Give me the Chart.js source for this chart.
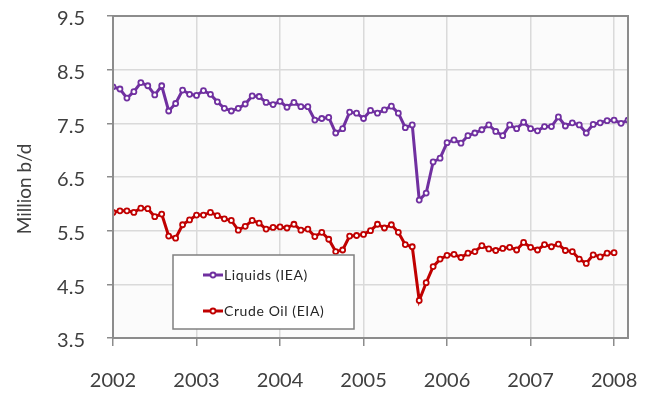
<!DOCTYPE html>
<html>
<head>
<meta charset="utf-8">
<script src="https://cdn.jsdelivr.net/npm/chart.js@4/dist/chart.umd.min.js"></script>
<style>
  html, body { margin: 0; padding: 0; background: #ffffff; }
  #wrap { width: 654px; height: 394px; }
</style>
</head>
<body>
<div id="wrap"><canvas id="grafico" width="654" height="394"></canvas></div>
<script>
// serie mensili, da gennaio 2002
const annoInizio = 2002;
const liquidiIEA = [
  8.18, 8.14, 7.97, 8.09, 8.26, 8.20, 8.03, 8.20, 7.73, 7.87, 8.12, 8.04,
  8.02, 8.11, 8.04, 7.90, 7.78, 7.73, 7.78, 7.86, 8.01, 8.00, 7.89, 7.85,
  7.91, 7.80, 7.89, 7.81, 7.81, 7.56, 7.59, 7.61, 7.32, 7.40, 7.71, 7.69,
  7.59, 7.74, 7.69, 7.75, 7.82, 7.69, 7.42, 7.47, 6.07, 6.20, 6.78, 6.85,
  7.14, 7.19, 7.13, 7.27, 7.32, 7.38, 7.47, 7.35, 7.27, 7.47, 7.40, 7.52,
  7.40, 7.36, 7.44, 7.44, 7.62, 7.45, 7.51, 7.47, 7.32, 7.48, 7.51, 7.55,
  7.56, 7.50, 7.56
];
const greggioEIA = [
  5.84, 5.87, 5.87, 5.84, 5.92, 5.91, 5.76, 5.81, 5.40, 5.36, 5.61, 5.70,
  5.79, 5.79, 5.84, 5.78, 5.72, 5.69, 5.51, 5.58, 5.69, 5.64, 5.53, 5.56,
  5.57, 5.55, 5.62, 5.51, 5.53, 5.39, 5.47, 5.34, 5.11, 5.14, 5.40, 5.41,
  5.43, 5.50, 5.62, 5.55, 5.61, 5.47, 5.24, 5.20, 4.20, 4.53, 4.83, 4.97,
  5.04, 5.06, 5.00, 5.08, 5.11, 5.22, 5.16, 5.13, 5.17, 5.19, 5.14, 5.28,
  5.19, 5.14, 5.24, 5.20, 5.25, 5.13, 5.11, 4.97, 4.89, 5.05, 5.01, 5.08,
  5.09
];
const etichetteSerie = ["Liquids (IEA)", "Crude Oil (EIA)"];
const coloriSerie = ["#7030a0", "#c00000"];
const tickAnni = [2002, 2003, 2004, 2005, 2006, 2007, 2008];
const tickY = [3.5, 4.5, 5.5, 6.5, 7.5, 8.5, 9.5];
const titoloY = "Million b/d";

// trasforma la serie mensile in punti {x: anno frazionario, y: valore}
function puntiMensili(valori) {
  return valori.map((v, i) => ({ x: annoInizio + i / 12, y: v }));
}

const font = "Lato";
const grigioTesto = "#404040";

// sfondo e bordo dell'area del grafico
const bordoArea = {
  id: "bordoArea",
  beforeDraw(chart) {
    const { ctx, chartArea: a } = chart;
    ctx.save();
    ctx.fillStyle = "#fbfbfb";
    ctx.fillRect(a.left, a.top, a.right - a.left, a.bottom - a.top);
    ctx.restore();
  },
  afterDatasetsDraw(chart) {
    const { ctx, chartArea: a } = chart;
    ctx.save();
    ctx.strokeStyle = "#8c8c8c";
    ctx.lineWidth = 2;
    ctx.strokeRect(a.left, a.top, a.right - a.left, a.bottom - a.top);
    ctx.restore();
  },
};

// titolo asse y, scritto a mano per poterlo posizionare
const titoloAsseY = {
  id: "titoloAsseY",
  afterDraw(chart) {
    const ctx = chart.ctx;
    ctx.save();
    ctx.translate(25, 189);
    ctx.rotate(-Math.PI / 2);
    ctx.font = "19px " + font;
    ctx.fillStyle = grigioTesto;
    ctx.textAlign = "center";
    ctx.textBaseline = "middle";
    ctx.fillText(titoloY, 0, 0);
    ctx.restore();
  },
};

// legenda in un riquadro dentro l'area del grafico
const legendaBox = {
  id: "legendaBox",
  afterDraw(chart) {
    const ctx = chart.ctx;
    const x = 173, y = 255, w = 181, h = 74;
    ctx.save();
    ctx.fillStyle = "#ffffff";
    ctx.fillRect(x, y, w, h);
    ctx.strokeStyle = "#808080";
    ctx.lineWidth = 1.5;
    ctx.strokeRect(x, y, w, h);
    ctx.font = "14px " + font;
    ctx.letterSpacing = "0.6px";
    ctx.textBaseline = "middle";
    etichetteSerie.forEach((testo, i) => {
      const yy = y + 20 + i * 36;
      ctx.strokeStyle = coloriSerie[i];
      ctx.lineWidth = 3;
      ctx.beginPath();
      ctx.moveTo(203, yy);
      ctx.lineTo(223, yy);
      ctx.stroke();
      ctx.beginPath();
      ctx.arc(213, yy, 2.5, 0, Math.PI * 2);
      ctx.fillStyle = "#ffffff";
      ctx.fill();
      ctx.lineWidth = 1.8;
      ctx.stroke();
      ctx.fillStyle = "#262626";
      ctx.fillText(testo, 224, yy);
    });
    ctx.restore();
  },
};

// dimensioni fisse degli assi, senza margini extra per le etichette
function fissaAsse(larghezza, altezza) {
  return function (scale) {
    if (larghezza) scale.width = larghezza;
    if (altezza) scale.height = altezza;
    scale.paddingTop = 0;
    scale.paddingBottom = 0;
    scale.paddingLeft = 0;
    scale.paddingRight = 0;
  };
}

const ctx = document.getElementById("grafico").getContext("2d");
const grafico = new Chart(ctx, {
  type: "line",
  data: {
    datasets: [
      {
        label: etichetteSerie[0],
        data: puntiMensili(liquidiIEA),
        borderColor: coloriSerie[0],
        backgroundColor: "#ffffff",
      },
      {
        label: etichetteSerie[1],
        data: puntiMensili(greggioEIA),
        borderColor: coloriSerie[1],
        backgroundColor: "#ffffff",
      },
    ],
  },
  options: {
    responsive: false,
    animation: false,
    layout: { padding: { top: 16, right: 26, left: 0, bottom: 0 } },
    elements: {
      line: { borderWidth: 3, tension: 0 },
      point: { radius: 2.5, borderWidth: 1.8, hoverRadius: 2.5 },
    },
    plugins: {
      legend: { display: false },
      tooltip: { enabled: false },
    },
    scales: {
      x: {
        type: "linear",
        min: 2002,
        max: 2008 + 2 / 12,
        afterFit: fissaAsse(0, 56),
        afterBuildTicks(scale) { scale.ticks = tickAnni.map((v) => ({ value: v })); },
        grid: { color: "#dadada", lineWidth: 1.5, tickColor: "#8c8c8c", tickLength: 8 },
        border: { color: "#8c8c8c", width: 2 },
        ticks: {
          color: grigioTesto,
          font: { family: font, size: 20 },
          padding: 23,
          maxRotation: 0,
          callback: (v) => String(v),
        },
      },
      y: {
        min: 3.5,
        max: 9.5,
        afterFit: fissaAsse(113, 0),
        afterBuildTicks(scale) { scale.ticks = tickY.map((v) => ({ value: v })); },
        grid: { color: "#dadada", lineWidth: 1.5, tickColor: "#8c8c8c", tickLength: 6 },
        border: { color: "#8c8c8c", width: 2 },
        ticks: {
          color: grigioTesto,
          font: { family: font, size: 20 },
          padding: 22,
          labelOffset: 3,
          callback: (v) => Number(v).toFixed(1),
        },
      },
    },
  },
  plugins: [bordoArea, titoloAsseY, legendaBox],
});
</script>
</body>
</html>
